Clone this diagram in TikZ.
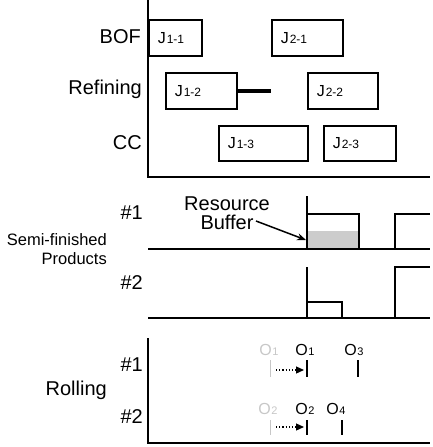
\documentclass[tikz,border=0pt]{standalone}
\usepackage{fontspec}
\setmainfont{Liberation Sans}
\usetikzlibrary{arrows.meta}
\newcommand\jsub[1]{\kern1pt{\fontsize{12}{14}\selectfont #1}}
\newcommand\osub[1]{\kern0.5pt{\fontsize{11}{13}\selectfont #1}}
\definecolor{lgray}{gray}{0.78}
\definecolor{fgray}{gray}{0.8}
\tikzset{
  axis/.style={line width=2pt},
  jbox/.style={draw, line width=1.5pt, minimum height=36pt, inner xsep=9pt, inner ysep=0pt,
    align=left, text width=#1, font=\fontsize{16}{19}\selectfont},
  lab/.style={font=\fontsize{20}{22}\selectfont, inner sep=0pt, anchor=east},
  slab/.style={font=\fontsize{16.5}{19}\selectfont, inner sep=0pt, anchor=east, align=right},
  olab/.style={font=\fontsize{16}{18}\selectfont, inner sep=0pt},
  gtick/.style={lgray, line width=1pt},
  btick/.style={line width=2pt},
  lvl/.style={line width=1.6pt},
}
\begin{document}
\begin{tikzpicture}[x=1pt,y=-1pt]
\useasboundingbox (0,0) rectangle (432,447);
% ---------- top section ----------
\draw[axis] (148,0) -- (148,177) -- (430,177);
\node[lab] (bof) at (141,37) {BOF};
\node[lab] (ref) at (142,89) {Refining};
\node[lab] (cc) at (142,143) {CC};
\node[jbox=35pt, anchor=north west] (j11) at (148,19) {J\jsub{1-1}};
\node[jbox=53pt, anchor=north west] (j21) at (271,19) {J\jsub{2-1}};
\node[jbox=53pt, anchor=north west] (j12) at (165,72) {J\jsub{1-2}};
\node[jbox=52pt, anchor=north west] (j22) at (307,72) {J\jsub{2-2}};
\node[jbox=71pt, anchor=north west, minimum height=35pt] (j13) at (218,125) {J\jsub{1-3}};
\node[jbox=54pt, anchor=north west, minimum height=35pt] (j23) at (323,125) {J\jsub{2-3}};
\draw[line width=4pt] (j12.east) -- (j12.east -| j21.west);
% ---------- middle section ----------
\node[slab] (sfp) at (107,249) {Semi-finished\\Products};
\node[lab] (s1) at (143,213) {\#1};
\node[lab] (s2) at (143,283) {\#2};
\fill[fgray] (307,231) rectangle (359,249);
\draw[axis] (148,249) -- (430,249);
\draw[lvl] (307,196) -- (307,249);
\draw[lvl] (307,214) -- (359,214) -- (359,249);
\draw[lvl] (395,249) -- (395,214) -- (430,214);
\draw[axis] (148,318) -- (430,318);
\draw[line width=1.2pt] (307,267) -- (307,318);
\draw[lvl] (307,302) -- (342,302) -- (342,318);
\draw[lvl] (395,318) -- (395,267) -- (430,267);
\node[font=\fontsize{20}{19}\selectfont, align=center, inner sep=0pt] (rb) at (227,213) {Resource\\Buffer};
\coordinate (ras) at (256,221);
\coordinate (rae) at (306,240);
\draw[line width=1.5pt, -{Stealth[length=9pt,width=7pt]}] (ras) -- (rae);
% ---------- bottom section ----------
\draw[axis] (148,338) -- (148,443) -- (430,443);
\node[lab] (rol) at (107,390) {Rolling};
\node[lab] (r1) at (143,365) {\#1};
\node[lab] (r2) at (143,417) {\#2};
% row 1
\node[olab, lgray] (o1g) at (269,350) {O\osub{1}};
\node[olab] (o1) at (305,350) {O\osub{1}};
\node[olab] (o3) at (354,350) {O\osub{3}};
\coordinate (t1g) at (270,360);
\coordinate (t1) at (307,360);
\coordinate (t3) at (358,360);
\draw[gtick] (t1g) -- ++(0,17);
\draw[btick] (t1) -- ++(0,17);
\draw[btick] (t3) -- ++(0,17);
\coordinate (a1s) at (276,370);
\coordinate (a1e) at (304,370);
\draw[line width=1.2pt, dotted, -{Triangle[length=8pt,width=7pt]}] (a1s) -- (a1e);
% row 2
\node[olab, lgray] (o2g) at (268,409) {O\osub{2}};
\node[olab] (o2) at (305,409) {O\osub{2}};
\node[olab] (o4) at (336,409) {O\osub{4}};
\coordinate (t2g) at (270,420);
\coordinate (t2) at (307,420);
\coordinate (t4) at (342,420);
\draw[gtick] (t2g) -- ++(0,15);
\draw[btick] (t2) -- ++(0,15);
\draw[btick] (t4) -- ++(0,15);
\coordinate (a2s) at (276,427);
\coordinate (a2e) at (304,427);
\draw[line width=1.2pt, dotted, -{Triangle[length=8pt,width=7pt]}] (a2s) -- (a2e);
\end{tikzpicture}
\end{document}
